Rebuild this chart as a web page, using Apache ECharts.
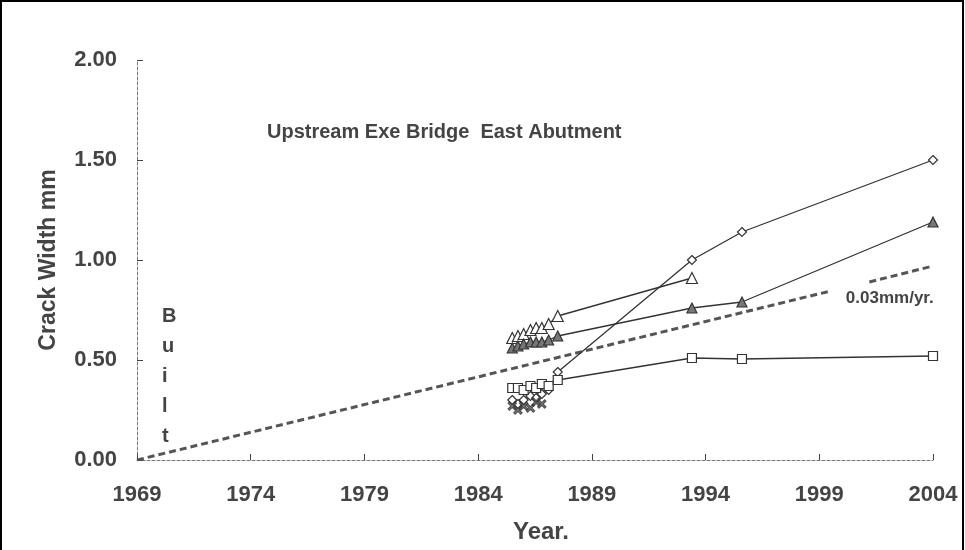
<!DOCTYPE html>
<html>
<head>
<meta charset="utf-8">
<script src="https://cdn.jsdelivr.net/npm/echarts@6/dist/echarts.min.js"></script>
<style>
	html, body { margin: 0; padding: 0; background: #fff; }
	#chart01 { width: 965px; height: 550px; }
</style>
</head>
<body>
<div id="chart01"></div>
<script>
// 기준 연도 (x축 시작)
const baseYear = 1969;
const xTickYears = [1969, 1974, 1979, 1984, 1989, 1994, 1999, 2004];

// 열린 마름모
const diamondYears = [1985.5, 1985.75, 1986.0, 1986.3, 1986.55, 1986.8, 1987.1, 1987.5, 1993.4, 1995.6, 2004];
const diamondVals  = [0.30, 0.28, 0.30, 0.32, 0.31, 0.33, 0.35, 0.44, 1.00, 1.14, 1.50];

// 열린 삼각형
const openTriYears = [1985.5, 1985.75, 1986.0, 1986.3, 1986.55, 1986.8, 1987.1, 1987.5, 1993.4];
const openTriVals  = [0.61, 0.62, 0.63, 0.65, 0.66, 0.66, 0.68, 0.72, 0.91];

// 채운 삼각형
const filledTriYears = [1985.5, 1985.75, 1986.0, 1986.3, 1986.55, 1986.8, 1987.1, 1987.5, 1993.4, 1995.6, 2004];
const filledTriVals  = [0.56, 0.57, 0.58, 0.59, 0.59, 0.59, 0.60, 0.62, 0.76, 0.79, 1.19];

// 열린 사각형
const squareYears = [1985.5, 1985.75, 1986.0, 1986.3, 1986.55, 1986.8, 1987.1, 1987.5, 1993.4, 1995.6, 2004];
const squareVals  = [0.36, 0.36, 0.35, 0.37, 0.36, 0.38, 0.37, 0.40, 0.51, 0.505, 0.52];

// 채운 별표
const crossYears = [1985.5, 1985.75, 1986.0, 1986.3, 1986.55, 1986.8];
const crossVals  = [0.27, 0.25, 0.27, 0.26, 0.29, 0.28];

// 0.03mm/yr 추세선 (두 조각)
const trendYearsA = [1969, 1999.5];
const trendValsA  = [0, 0.845];
const trendYearsB = [2001.2, 2004];
const trendValsB  = [0.89, 0.97];

const toPairs = (ys, vs) => ys.map((y, i) => [y - baseYear, vs[i]]);

const FONT = "'Liberation Sans', Arial, sans-serif";
const INK = '#444';

const lineSeries = function(name, ys, vs, symbol, size, fill) {
	return {
		name: name,
		type: 'line',
		data: toPairs(ys, vs),
		symbol: symbol,
		symbolSize: size,
		showAllSymbol: true,
		lineStyle: { color: '#333', width: 1.3 },
		itemStyle: { color: fill, borderColor: '#333', borderWidth: 1.2 },
		z: 3,
	};
};

const option = {
	backgroundColor: '#fff',
	animation: false,
	grid: { left: 137, right: 32, top: 60, bottom: 90 },
	title: {
		text: 'Upstream Exe Bridge  East Abutment',
		left: 262,
		top: 117,
		textStyle: { fontFamily: FONT, fontSize: 20, fontWeight: 'bold', color: INK },
	},
	xAxis: {
		type: 'value',
		min: 0,
		max: 35,
		interval: 5,
		name: 'Year.',
		nameLocation: 'middle',
		nameGap: 60,
		nameTextStyle: { fontFamily: FONT, fontSize: 24, fontWeight: 'bold', color: INK, padding: [0, 0, 0, 12] },
		axisLine: { lineStyle: { color: '#777', width: 1, type: [3, 2] } },
		axisTick: { show: true, length: 6, inside: true, lineStyle: { color: '#444' } },
		axisLabel: {
			margin: 24,
			fontFamily: FONT, fontSize: 22, fontWeight: 'bold', color: INK,
			formatter: v => String(v + baseYear),
		},
		splitLine: { show: false },
	},
	yAxis: {
		type: 'value',
		min: 0,
		max: 2,
		interval: 0.5,
		name: 'Crack Width mm',
		nameLocation: 'middle',
		nameGap: 77,
		nameRotate: 90,
		nameTextStyle: { fontFamily: FONT, fontSize: 23, fontWeight: 'bold', color: INK },
		axisLine: { show: true, lineStyle: { color: '#777', width: 1, type: [3, 2] } },
		axisTick: { show: true, length: 6, inside: true, lineStyle: { color: '#444' } },
		axisLabel: {
			margin: 20,
			fontFamily: FONT, fontSize: 22, fontWeight: 'bold', color: INK,
			formatter: v => v.toFixed(2),
		},
		splitLine: { show: false },
	},
	series: [
		{
			type: 'line',
			data: toPairs(trendYearsA, trendValsA),
			symbol: 'none',
			lineStyle: { color: '#555', width: 3, type: [7, 4] },
			z: 2,
		},
		{
			type: 'line',
			data: toPairs(trendYearsB, trendValsB),
			symbol: 'none',
			lineStyle: { color: '#555', width: 3, type: [7, 4] },
			z: 2,
			markPoint: {
				symbol: 'circle',
				symbolSize: 0,
				data: [{ coord: [2002.1 - baseYear, 0.81] }],
				label: {
					show: true,
					formatter: '0.03mm/yr.',
					fontFamily: FONT, fontSize: 17, fontWeight: 'bold', color: INK,
				},
			},
		},
		lineSeries('diamond', diamondYears, diamondVals, 'diamond', 9, '#fff'),
		lineSeries('openTri', openTriYears, openTriVals, 'triangle', 11, '#fff'),
		lineSeries('filledTri', filledTriYears, filledTriVals, 'triangle', 10, '#777'),
		lineSeries('square', squareYears, squareVals, 'rect', 9, '#fff'),
		{
			name: 'cross',
			type: 'scatter',
			data: toPairs(crossYears, crossVals),
			symbol: 'path://M4,0 L6,0 L6,4 L10,4 L10,6 L6,6 L6,10 L4,10 L4,6 L0,6 L0,4 L4,4 Z',
			symbolSize: 10,
			symbolRotate: 45,
			itemStyle: { color: '#555', borderColor: '#333', borderWidth: 1 },
			z: 4,
		},
	],
	graphic: [
		{
			type: 'text',
			left: 162,
			top: 301,
			style: {
				text: 'B\nu\ni\nl\nt',
				font: 'bold 20px ' + FONT,
				fill: INK,
				lineHeight: 30,
				align: 'center',
			},
		},
		{
			type: 'rect',
			shape: { x: 1, y: 1, width: 962, height: 560 },
			style: { fill: 'none', stroke: '#000', lineWidth: 2 },
			silent: true,
		},
	],
};

const myChart = echarts.init(document.getElementById('chart01'), null, { renderer: 'canvas' });
myChart.setOption(option);
window.addEventListener('resize', myChart.resize);
</script>
</body>
</html>
